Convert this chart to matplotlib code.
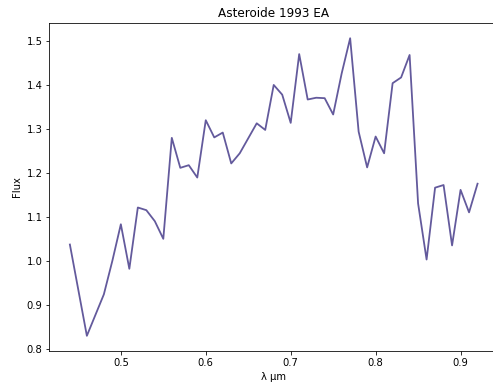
import matplotlib
matplotlib.use("Agg")
import matplotlib.pyplot as plt

# wavelength (micron) and reflectance flux
wavelength = [0.44, 0.46, 0.48, 0.49, 0.50, 0.51, 0.52, 0.53, 0.54, 0.55,
              0.56, 0.57, 0.58, 0.59, 0.60, 0.61, 0.62, 0.63, 0.64, 0.66,
              0.67, 0.68, 0.69, 0.70, 0.71, 0.72, 0.73, 0.74, 0.75, 0.76,
              0.77, 0.78, 0.79, 0.80, 0.81, 0.82, 0.83, 0.84, 0.85, 0.86,
              0.87, 0.88, 0.89, 0.90, 0.91, 0.92]
flux = [1.038, 0.831, 0.925, 1.001, 1.084, 0.983, 1.122, 1.116, 1.091, 1.051,
        1.280, 1.212, 1.218, 1.190, 1.320, 1.281, 1.292, 1.222, 1.245, 1.313,
        1.298, 1.400, 1.378, 1.314, 1.470, 1.367, 1.371, 1.370, 1.333, 1.426,
        1.506, 1.294, 1.213, 1.283, 1.245, 1.404, 1.417, 1.468, 1.131, 1.004,
        1.167, 1.173, 1.036, 1.162, 1.111, 1.176]

fig = plt.figure(figsize=(493 / 72, 389 / 72), dpi=72)
ax = fig.add_axes([0.1004, 0.0985, 0.9096, 0.8415])
ax.plot(wavelength, flux, color="darkslateblue", alpha=0.85, linewidth=1.8)
ax.set_title("Asteroide 1993 EA", fontsize=12)
ax.set_xlabel("λ µm", fontsize=10)
ax.set_ylabel("Flux", fontsize=10)
ax.tick_params(labelsize=10)

fig.savefig("out.png", dpi=72)
